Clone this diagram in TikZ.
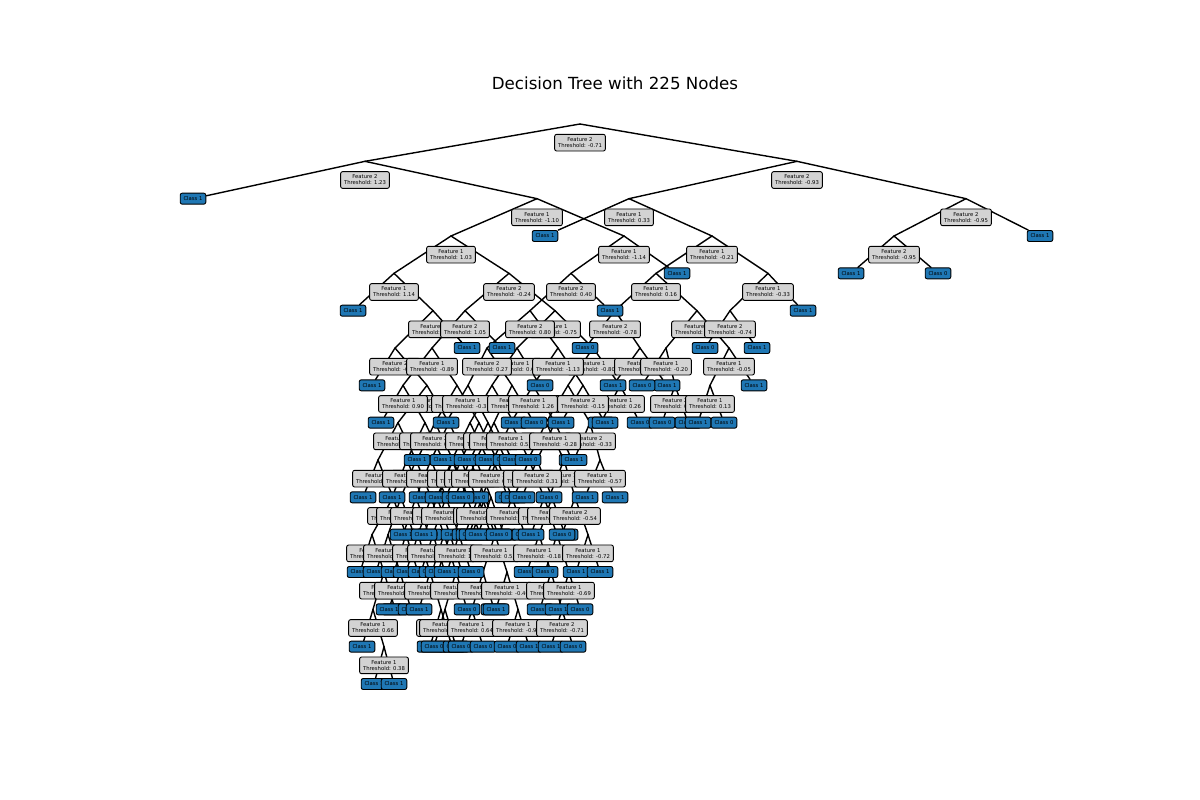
\documentclass[tikz,border=0pt]{standalone}
\usepackage{fontspec}
\setmainfont{DejaVu Sans}
\pgfdeclarelayer{paper}
\pgfdeclarelayer{bg}
\pgfsetlayers{paper,bg,main}
\definecolor{ngray}{HTML}{D3D3D3}
\definecolor{nblue}{HTML}{1F77B4}
\tikzset{
  inode/.style={draw=black, line width=0.9pt, fill=ngray, rounded corners=2pt, align=center,
    font=\fontsize{5.3}{6}\selectfont, inner xsep=3.4pt, inner ysep=1.6pt, minimum height=16.7pt},
  lnode/.style={draw=black, line width=0.9pt, fill=nblue, rounded corners=2pt,
    font=\fontsize{5.3}{6}\selectfont, inner xsep=3.3pt, inner ysep=1.6pt, minimum height=11pt},
  treeline/.style={draw=black, line width=1.4pt, line cap=round}
}
\newcommand{\INODE}[5]{\coordinate (#1) at (#2,{124+37.333*#3}); \node[inode] (#1b) at (#2,{142.67+37.333*#3}) {Feature #4\\Threshold: #5};}
\newcommand{\LNODE}[4]{\node[lnode] (#1) at (#2,{124+37.333*#3}) {Class #4};}
\newcommand{\EDG}[2]{\draw[treeline] (#1) -- (#2);}
\begin{document}
\begin{tikzpicture}[x=1pt,y=-1pt]
\begin{pgfonlayer}{paper}
\fill[white] (0,0) rectangle (1200,800);
\end{pgfonlayer}
\useasboundingbox (0,0) rectangle (1200,800);
\node[font=\fontsize{16.67}{20}\selectfont, anchor=base] (title) at (615,89) {Decision Tree with 225 Nodes};
% level 0-2
\INODE{n0}{580}{0}{2}{-0.71}
\INODE{a1}{365}{1}{2}{1.23}
\INODE{a2}{797}{1}{2}{-0.93}
\LNODE{b1}{193}{2}{1}
\INODE{b2}{537}{2}{1}{-1.10}
\INODE{b3}{629}{2}{1}{0.33}
\INODE{b4}{966}{2}{2}{-0.95}
% level 3
\INODE{c1}{451}{3}{1}{1.03}
\INODE{c2}{624}{3}{1}{-1.14}
\LNODE{c3}{545}{3}{1}
\INODE{c4}{712}{3}{1}{-0.21}
\INODE{c5}{894}{3}{2}{-0.95}
\LNODE{c6}{1040}{3}{1}
% level 4
\INODE{d1}{394}{4}{1}{1.14}
\INODE{d2}{509}{4}{2}{-0.24}
\INODE{d3}{571}{4}{2}{0.40}
\LNODE{d4}{677}{4}{1}
\INODE{d5}{656}{4}{1}{0.16}
\INODE{d6}{768}{4}{1}{-0.33}
\LNODE{d7}{851}{4}{1}
\LNODE{d8}{938}{4}{0}
% level 5
\LNODE{e1}{353}{5}{1}
\INODE{e2}{433}{5}{1}{0.62}
\INODE{e3}{465}{5}{2}{1.05}
\INODE{e4}{555}{5}{1}{-0.75}
\INODE{e5}{530}{5}{2}{0.80}
\INODE{e7}{615}{5}{2}{-0.78}
\LNODE{e6}{610}{5}{1}
\INODE{e8}{697}{5}{1}{-0.47}
\INODE{e9}{730}{5}{2}{-0.74}
\LNODE{e10}{803}{5}{1}
% level 6
\INODE{f1}{395}{6}{2}{-0.12}
\LNODE{f2}{467}{6}{1}
\INODE{f3}{432}{6}{1}{-0.89}
\LNODE{f4}{502}{6}{1}
\INODE{f7}{517}{6}{1}{0.61}
\INODE{f8}{593}{6}{1}{-0.80}
\INODE{f5}{487}{6}{2}{0.27}
\INODE{f6}{558}{6}{1}{-1.13}
\LNODE{f9}{585}{6}{0}
\INODE{f10}{640}{6}{2}{-1.05}
\INODE{f11}{666}{6}{1}{-0.20}
\INODE{f12}{729}{6}{1}{-0.05}
\LNODE{f13}{705}{6}{0}
\LNODE{f14}{757}{6}{1}
% level 7
\LNODE{g1}{372}{7}{1}
\INODE{g2}{427}{7}{1}{0.45}
\INODE{g3}{403}{7}{1}{0.90}
\INODE{g4}{457}{7}{2}{-0.66}
\INODE{g7}{492}{7}{2}{-0.38}
\LNODE{g8}{540}{7}{0}
\INODE{g11}{568}{7}{1}{-1.41}
\INODE{g12}{620}{7}{1}{0.26}
\INODE{g5}{468}{7}{1}{-0.31}
\INODE{g6}{512}{7}{2}{0.13}
\INODE{g9}{533}{7}{1}{1.26}
\INODE{g10}{583}{7}{2}{-0.15}
\LNODE{g13}{613}{7}{1}
\LNODE{g14}{667}{7}{1}
\LNODE{g15}{642}{7}{0}
\INODE{g16}{675}{7}{2}{0.72}
\INODE{g17}{710}{7}{1}{0.13}
\LNODE{g18}{754}{7}{1}
% level 8
\INODE{h1}{398}{8}{2}{0.09}
\INODE{h4}{449}{8}{1}{1.32}
\LNODE{hl1}{381}{8}{1}
\INODE{h2}{425}{8}{1}{-0.52}
\INODE{h3}{435}{8}{2}{0.71}
\INODE{h6}{479}{8}{2}{-0.83}
\INODE{h5}{470}{8}{1}{0.80}
\LNODE{hl3}{514}{8}{1}
\INODE{h10}{546}{8}{2}{-1.02}
\INODE{h12}{590}{8}{2}{-0.33}
\LNODE{hl7}{601}{8}{1}
\LNODE{hl8}{640}{8}{0}
\LNODE{hl2}{446}{8}{1}
\INODE{h7}{488}{8}{1}{0.35}
\INODE{h8}{494}{8}{2}{0.18}
\LNODE{hl4}{534}{8}{0}
\INODE{h9}{511}{8}{1}{0.52}
\INODE{h11}{555}{8}{1}{-0.28}
\LNODE{hl5}{561}{8}{1}
\LNODE{hl6}{605}{8}{1}
\LNODE{hl9}{662}{8}{0}
\LNODE{hl10}{688}{8}{1}
\LNODE{hl11}{698}{8}{1}
\LNODE{hl12}{724}{8}{0}
% level 9
\INODE{i1}{378}{9}{1}{-0.17}
\INODE{i3}{416}{9}{1}{1.47}
\INODE{i2}{407}{9}{2}{0.88}
\LNODE{il1}{443}{9}{1}
\LNODE{il2}{417}{9}{1}
\INODE{i6}{453}{9}{2}{-0.58}
\INODE{i4}{431}{9}{2}{0.53}
\LNODE{il3}{467}{9}{0}
\INODE{i5}{452}{9}{1}{0.06}
\LNODE{il4}{488}{9}{0}
\INODE{i7}{461}{9}{1}{0.95}
\INODE{i11}{497}{9}{2}{-0.41}
\INODE{i8}{470}{9}{1}{-0.36}
\LNODE{il5}{506}{9}{1}
\INODE{i9}{476}{9}{2}{1.19}
\LNODE{il6}{512}{9}{0}
\INODE{i10}{493}{9}{1}{0.42}
\INODE{i12}{529}{9}{1}{-0.63}
\LNODE{il7}{528}{9}{0}
\INODE{i14}{564}{9}{1}{-0.77}
\INODE{i13}{537}{9}{2}{0.31}
\LNODE{il8}{572}{9}{0}
\INODE{i15}{600}{9}{1}{-0.57}
\LNODE{il9}{574}{9}{1}
% level 10
\LNODE{jl1}{363}{10}{1}
\INODE{j1}{393}{10}{1}{-0.44}
\LNODE{jl2}{392}{10}{1}
\LNODE{jl3}{422}{10}{0}
\INODE{j2}{401}{10}{2}{0.66}
\INODE{j3}{431}{10}{1}{1.21}
\INODE{j4}{416}{10}{2}{-0.09}
\LNODE{jl4}{446}{10}{1}
\INODE{j5}{437}{10}{1}{0.37}
\INODE{j6}{467}{10}{1}{0.79}
\LNODE{jl5}{438}{10}{0}
\LNODE{jl6}{468}{10}{0}
\INODE{j7}{446}{10}{2}{1.48}
\LNODE{jl7}{476}{10}{0}
\LNODE{jl8}{455}{10}{0}
\INODE{j8}{485}{10}{1}{-0.92}
\LNODE{jl9}{461}{10}{0}
\INODE{j9}{491}{10}{2}{0.14}
\INODE{j10}{478}{10}{1}{0.58}
\LNODE{jl10}{508}{10}{0}
\INODE{j11}{482}{10}{2}{-0.27}
\INODE{j12}{512}{10}{2}{-0.43}
\LNODE{jl11}{514}{10}{0}
\INODE{j13}{544}{10}{1}{-0.35}
\LNODE{jl12}{522}{10}{0}
\INODE{j14}{552}{10}{2}{0.92}
\LNODE{jl13}{549}{10}{0}
\INODE{j15}{575}{10}{2}{-0.54}
\LNODE{jl14}{585}{10}{1}
\LNODE{jl15}{615}{10}{1}
% level 11
\INODE{k1}{372}{11}{1}{-0.31}
\INODE{k2}{406}{11}{2}{1.14}
\INODE{k3}{388}{11}{1}{0.71}
\LNODE{kl1}{414}{11}{1}
\LNODE{kl2}{403}{11}{1}
\LNODE{kl3}{429}{11}{0}
\INODE{k4}{418}{11}{2}{-0.62}
\INODE{k5}{444}{11}{1}{0.22}
\LNODE{kl4}{424}{11}{1}
\INODE{k6}{450}{11}{2}{-1.17}
\INODE{k7}{433}{11}{1}{-0.84}
\INODE{k8}{459}{11}{1}{1.02}
\LNODE{kl5}{454}{11}{0}
\LNODE{kl6}{480}{11}{1}
\LNODE{kl7}{465}{11}{1}
\LNODE{kl8}{491}{11}{0}
\LNODE{kl9}{469}{11}{0}
\INODE{k9}{495}{11}{1}{0.55}
\LNODE{kl10}{472}{11}{1}
\LNODE{kl11}{498}{11}{0}
\LNODE{kl12}{478}{11}{0}
\LNODE{kl13}{504}{11}{1}
\LNODE{kl14}{499}{11}{0}
\LNODE{kl15}{525}{11}{0}
\LNODE{kl16}{531}{11}{1}
\INODE{k10}{557}{11}{2}{0.47}
\INODE{k11}{539}{11}{1}{-0.18}
\LNODE{kl17}{565}{11}{0}
\LNODE{kl18}{562}{11}{0}
\INODE{k12}{588}{11}{1}{-0.72}
% level 12
\LNODE{ll1}{360}{12}{1}
\INODE{l1}{384}{12}{2}{0.19}
\LNODE{ll2}{376}{12}{1}
\INODE{l2}{400}{12}{1}{-0.58}
\LNODE{ll3}{394}{12}{1}
\LNODE{ll4}{418}{12}{0}
\LNODE{ll5}{406}{12}{1}
\INODE{l3}{430}{12}{1}{-0.22}
\LNODE{ll6}{421}{12}{0}
\LNODE{ll7}{445}{12}{1}
\LNODE{ll8}{432}{12}{1}
\INODE{l4}{456}{12}{2}{-0.75}
\LNODE{ll9}{438}{12}{0}
\LNODE{ll10}{462}{12}{1}
\LNODE{ll11}{447}{12}{1}
\LNODE{ll12}{471}{12}{0}
\INODE{l5}{483}{12}{2}{-0.49}
\INODE{l6}{507}{12}{1}{-0.40}
\LNODE{ll13}{527}{12}{1}
\INODE{l7}{551}{12}{2}{0.86}
\LNODE{ll14}{545}{12}{0}
\INODE{l8}{569}{12}{1}{-0.69}
\LNODE{ll15}{576}{12}{1}
\LNODE{ll16}{600}{12}{1}
% level 13
\INODE{m1}{373}{13}{1}{0.66}
\LNODE{ml1}{395}{13}{1}
\LNODE{ml2}{389}{13}{1}
\LNODE{ml3}{411}{13}{1}
\LNODE{ml4}{419}{13}{1}
\INODE{m2}{441}{13}{2}{0.28}
\INODE{m3}{445}{13}{1}{-0.11}
\LNODE{ml5}{467}{13}{0}
\INODE{m4}{472}{13}{1}{0.64}
\LNODE{ml6}{494}{13}{1}
\LNODE{ml7}{496}{13}{1}
\INODE{m5}{518}{13}{1}{-0.97}
\LNODE{ml8}{540}{13}{0}
\INODE{m6}{562}{13}{2}{-0.71}
\LNODE{ml9}{558}{13}{1}
\LNODE{ml10}{580}{13}{0}
% level 14
\LNODE{pl1}{362}{14}{1}
\INODE{p1}{384}{14}{1}{0.38}
\LNODE{pl2}{430}{14}{1}
\LNODE{pl3}{452}{14}{0}
\LNODE{pl4}{434}{14}{0}
\LNODE{pl5}{456}{14}{1}
\LNODE{pl6}{461}{14}{0}
\LNODE{pl7}{483}{14}{0}
\LNODE{pl8}{507}{14}{0}
\LNODE{pl9}{529}{14}{1}
\LNODE{pl10}{551}{14}{1}
\LNODE{pl11}{573}{14}{0}
% level 15
\LNODE{ql1}{374}{15}{1}
\LNODE{ql2}{394}{15}{1}
\begin{pgfonlayer}{bg}
\EDG{n0}{a1}\EDG{n0}{a2}
\EDG{a1}{b1}\EDG{a1}{b2}\EDG{a2}{b3}\EDG{a2}{b4}
\EDG{b2}{c1}\EDG{b2}{c2}\EDG{b3}{c3}\EDG{b3}{c4}\EDG{b4}{c5}\EDG{b4}{c6}
\EDG{c1}{d1}\EDG{c1}{d2}\EDG{c2}{d3}\EDG{c2}{d4}\EDG{c4}{d5}\EDG{c4}{d6}\EDG{c5}{d7}\EDG{c5}{d8}
\EDG{d1}{e1}\EDG{d1}{e2}\EDG{d2}{e3}\EDG{d2}{e4}\EDG{d3}{e5}\EDG{d3}{e6}\EDG{d5}{e7}\EDG{d5}{e8}\EDG{d6}{e9}\EDG{d6}{e10}
\EDG{e2}{f1}\EDG{e2}{f2}\EDG{e3}{f3}\EDG{e3}{f4}\EDG{e5}{f5}\EDG{e5}{f6}\EDG{e4}{f7}\EDG{e4}{f8}\EDG{e7}{f9}\EDG{e7}{f10}\EDG{e8}{f11}\EDG{e8}{f12}\EDG{e9}{f13}\EDG{e9}{f14}
\EDG{f1}{g1}\EDG{f1}{g2}\EDG{f3}{g3}\EDG{f3}{g4}\EDG{f5}{g5}\EDG{f5}{g6}\EDG{f7}{g7}\EDG{f7}{g8}\EDG{f6}{g9}\EDG{f6}{g10}\EDG{f8}{g11}\EDG{f8}{g12}\EDG{f10}{g13}\EDG{f10}{g14}\EDG{f11}{g15}\EDG{f11}{g16}\EDG{f12}{g17}\EDG{f12}{g18}
\EDG{g3}{hl1}\EDG{g3}{h2}\EDG{g2}{h1}\EDG{g2}{h4}\EDG{g4}{h3}\EDG{g4}{h6}\EDG{g5}{hl2}\EDG{g5}{h7}\EDG{g7}{h5}\EDG{g7}{hl3}\EDG{g6}{h8}\EDG{g6}{hl4}
\EDG{g9}{h9}\EDG{g9}{h11}\EDG{g11}{h10}\EDG{g11}{h12}\EDG{g10}{hl5}\EDG{g10}{hl6}\EDG{g12}{hl7}\EDG{g12}{hl8}\EDG{g16}{hl9}\EDG{g16}{hl10}\EDG{g17}{hl11}\EDG{g17}{hl12}
\EDG{h1}{i1}\EDG{h1}{i3}\EDG{h2}{i2}\EDG{h2}{il1}\EDG{h3}{il2}\EDG{h3}{i6}\EDG{h4}{i4}\EDG{h4}{il3}\EDG{h5}{i5}\EDG{h5}{il4}\EDG{h6}{i7}\EDG{h6}{i11}
\EDG{h7}{i8}\EDG{h7}{il5}\EDG{h8}{i9}\EDG{h8}{il6}\EDG{h9}{i10}\EDG{h9}{i12}\EDG{h10}{il7}\EDG{h10}{i14}\EDG{h11}{i13}\EDG{h11}{il8}\EDG{h12}{il9}\EDG{h12}{i15}
\EDG{i1}{jl1}\EDG{i1}{j1}\EDG{i2}{jl2}\EDG{i2}{jl3}\EDG{i3}{j2}\EDG{i3}{j3}\EDG{i4}{j4}\EDG{i4}{jl4}\EDG{i5}{j5}\EDG{i5}{j6}\EDG{i6}{jl5}\EDG{i6}{jl6}
\EDG{i7}{j7}\EDG{i7}{jl7}\EDG{i8}{jl8}\EDG{i8}{j8}\EDG{i9}{jl9}\EDG{i9}{j9}\EDG{i10}{j10}\EDG{i10}{jl10}\EDG{i11}{j11}\EDG{i11}{j12}
\EDG{i12}{jl11}\EDG{i12}{j13}\EDG{i13}{jl12}\EDG{i13}{j14}\EDG{i14}{jl13}\EDG{i14}{j15}\EDG{i15}{jl14}\EDG{i15}{jl15}
\EDG{j1}{k1}\EDG{j1}{k2}\EDG{j2}{k3}\EDG{j2}{kl1}\EDG{j4}{kl2}\EDG{j4}{kl3}\EDG{j3}{k4}\EDG{j3}{k5}\EDG{j5}{kl4}\EDG{j5}{k6}\EDG{j7}{k7}\EDG{j7}{k8}
\EDG{j6}{kl5}\EDG{j6}{kl6}\EDG{j10}{kl7}\EDG{j10}{kl8}\EDG{j11}{kl9}\EDG{j11}{k9}\EDG{j8}{kl10}\EDG{j8}{kl11}\EDG{j9}{kl12}\EDG{j9}{kl13}
\EDG{j12}{kl14}\EDG{j12}{kl15}\EDG{j13}{kl16}\EDG{j13}{k10}\EDG{j14}{k11}\EDG{j14}{kl17}\EDG{j15}{kl18}\EDG{j15}{k12}
\EDG{k1}{ll1}\EDG{k1}{l1}\EDG{k3}{ll2}\EDG{k3}{l2}\EDG{k2}{ll3}\EDG{k2}{ll4}\EDG{k4}{ll5}\EDG{k4}{l3}\EDG{k7}{ll6}\EDG{k7}{ll7}\EDG{k5}{ll8}\EDG{k5}{l4}
\EDG{k6}{ll9}\EDG{k6}{ll10}\EDG{k8}{ll11}\EDG{k8}{ll12}\EDG{k9}{l5}\EDG{k9}{l6}\EDG{k11}{ll13}\EDG{k11}{l7}\EDG{k10}{ll14}\EDG{k10}{l8}\EDG{k12}{ll15}\EDG{k12}{ll16}
\EDG{l1}{m1}\EDG{l1}{ml1}\EDG{l2}{ml2}\EDG{l2}{ml3}\EDG{l3}{ml4}\EDG{l3}{m2}\EDG{l4}{m3}\EDG{l4}{ml5}\EDG{l5}{m4}\EDG{l5}{ml6}\EDG{l6}{ml7}\EDG{l6}{m5}\EDG{l7}{ml8}\EDG{l7}{m6}\EDG{l8}{ml9}\EDG{l8}{ml10}
\EDG{m1}{pl1}\EDG{m1}{p1}\EDG{m2}{pl2}\EDG{m2}{pl3}\EDG{m3}{pl4}\EDG{m3}{pl5}\EDG{m4}{pl6}\EDG{m4}{pl7}\EDG{m5}{pl8}\EDG{m5}{pl9}\EDG{m6}{pl10}\EDG{m6}{pl11}
\EDG{p1}{ql1}\EDG{p1}{ql2}
\end{pgfonlayer}
\end{tikzpicture}
\end{document}
